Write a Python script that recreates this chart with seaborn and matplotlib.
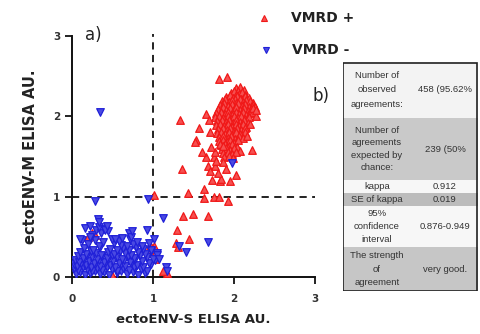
import matplotlib
matplotlib.use("Agg")
import matplotlib.pyplot as plt
import seaborn as sns
import pandas as pd
from matplotlib.lines import Line2D
from matplotlib.patches import Rectangle

# ---------------- data ----------------
pos_cluster = [
    (2.02,2.35),(2.08,2.37),(2.12,2.33),(2.05,2.31),
    (1.96,2.29),(2.00,2.31),(2.06,2.28),(2.10,2.30),(2.14,2.27),(2.03,2.26),
    (1.90,2.24),(1.95,2.26),(1.99,2.23),(2.04,2.25),(2.09,2.22),(2.13,2.25),(2.18,2.23),(2.01,2.21),
    (1.85,2.19),(1.89,2.21),(1.94,2.18),(1.98,2.20),(2.02,2.17),(2.07,2.21),(2.11,2.18),(2.15,2.20),(2.20,2.19),(2.23,2.16),
    (1.83,2.14),(1.88,2.16),(1.92,2.13),(1.97,2.15),(2.01,2.12),(2.05,2.16),(2.10,2.13),(2.14,2.15),(2.19,2.12),(2.24,2.14),
    (1.80,2.09),(1.86,2.11),(1.90,2.08),(1.95,2.10),(1.99,2.07),(2.03,2.11),(2.08,2.08),(2.12,2.10),(2.17,2.07),(2.21,2.09),(2.26,2.11),
    (1.78,2.04),(1.84,2.06),(1.89,2.03),(1.93,2.05),(1.98,2.02),(2.02,2.06),(2.06,2.03),(2.11,2.05),(2.15,2.02),(2.20,2.04),(2.24,2.06),
    (1.77,1.99),(1.82,2.01),(1.87,1.98),(1.92,2.00),(1.96,1.97),(2.00,2.01),(2.05,1.98),(2.09,2.00),(2.14,1.97),(2.18,1.99),(2.27,2.01),
    (1.79,1.94),(1.85,1.96),(1.90,1.93),(1.94,1.95),(1.99,1.92),(2.03,1.96),(2.08,1.93),(2.12,1.95),(2.17,1.92),
    (1.78,1.89),(1.83,1.91),(1.88,1.88),(1.93,1.90),(1.97,1.87),(2.02,1.91),(2.06,1.88),(2.11,1.90),(2.15,1.87),
    (1.80,1.84),(1.86,1.86),(1.91,1.83),(1.95,1.85),(2.00,1.82),(2.04,1.86),(2.09,1.83),(2.13,1.85),
    (1.79,1.79),(1.84,1.81),(1.89,1.78),(1.94,1.80),(1.98,1.77),(2.03,1.81),(2.08,1.78),(2.14,1.80),
    (1.82,1.74),(1.87,1.76),(1.92,1.73),(1.96,1.75),(2.01,1.72),(2.06,1.76),(2.11,1.73),
    (1.81,1.69),(1.86,1.71),(1.91,1.68),(1.95,1.70),(2.00,1.67),(2.05,1.71),
    (1.84,1.64),(1.89,1.66),(1.94,1.63),(1.98,1.65),(2.04,1.62),
    (1.85,1.59),(1.90,1.61),(1.95,1.58),(2.00,1.60),(2.07,1.57),
    (1.87,1.54),(1.92,1.56),(1.97,1.53),(2.02,1.55),
    (1.88,1.49),(1.94,1.51),(1.99,1.48),
]
pos_scatter = [
    (1.81,2.47),(1.91,2.49),(1.33,1.95),(1.57,1.85),(1.53,1.71),(1.52,1.68),(1.36,1.34),
    (1.65,2.03),(1.43,1.05),(1.37,0.76),(1.49,0.78),(1.68,0.76),(1.30,0.58),(1.45,0.47),
    (1.29,0.42),(1.31,0.37),(1.01,1.02),(1.01,0.38),(1.17,0.05),(1.63,1.09),(1.63,0.98),
    (1.75,1.00),(1.81,1.00),(1.93,0.94),(2.02,1.27),(1.95,1.19),(1.83,1.19),(1.84,1.22),
    (1.73,1.21),(1.76,1.38),(1.68,1.38),(1.70,1.32),(1.65,1.50),(1.75,1.50),(1.77,1.56),
    (1.86,1.43),(2.22,1.58),(2.16,1.75),(2.24,2.10),(2.27,2.08),(2.20,1.90),(1.69,1.96),
    (1.70,1.81),(1.83,1.65),(1.87,1.63),(1.72,1.62),(1.78,1.45),(1.80,1.30),(1.90,1.35),
    (1.60,1.55),(0.50,0.02),(0.25,0.55),(0.28,0.52),(0.98,0.30),(0.96,0.40),(1.02,0.22),
    (0.20,0.50),(1.12,0.08),
]
neg_cluster = [
    (0.05,0.04),(0.10,0.06),(0.16,0.03),(0.22,0.05),(0.28,0.07),(0.34,0.04),(0.40,0.06),(0.46,0.03),(0.55,0.05),(0.61,0.07),(0.68,0.04),(0.75,0.06),(0.82,0.03),(0.90,0.05),
    (0.03,0.11),(0.08,0.09),(0.13,0.12),(0.19,0.10),(0.25,0.08),(0.31,0.11),(0.37,0.09),(0.43,0.12),(0.49,0.10),(0.56,0.08),(0.63,0.11),(0.70,0.09),(0.77,0.12),(0.85,0.10),(0.93,0.08),
    (0.02,0.16),(0.06,0.14),(0.11,0.17),(0.17,0.15),(0.23,0.13),(0.29,0.16),(0.35,0.14),(0.41,0.17),(0.47,0.15),(0.53,0.13),(0.60,0.16),(0.66,0.14),(0.73,0.17),(0.80,0.15),(0.88,0.13),(0.97,0.16),
    (0.04,0.21),(0.09,0.19),(0.15,0.22),(0.21,0.20),(0.27,0.18),(0.33,0.21),(0.39,0.19),(0.45,0.22),(0.51,0.20),(0.58,0.18),(0.64,0.21),(0.71,0.19),(0.78,0.22),(0.86,0.20),(0.95,0.18),(1.03,0.21),
    (0.07,0.26),(0.13,0.24),(0.19,0.27),(0.25,0.25),(0.31,0.23),(0.37,0.26),(0.43,0.24),(0.50,0.27),(0.56,0.25),(0.62,0.23),(0.69,0.26),(0.76,0.24),(0.84,0.27),(0.92,0.25),(1.00,0.23),
    (0.10,0.31),(0.17,0.29),(0.24,0.32),(0.30,0.30),(0.36,0.28),(0.44,0.31),(0.52,0.29),(0.59,0.32),(0.66,0.30),(0.73,0.28),(0.81,0.31),(0.90,0.29),(0.98,0.32),(1.05,0.30),
    (0.15,0.36),(0.26,0.34),(0.34,0.37),(0.47,0.35),(0.55,0.33),(0.63,0.36),(0.70,0.34),(0.79,0.37),(0.88,0.35),(0.97,0.33),
    (0.20,0.41),(0.33,0.39),(0.52,0.42),(0.61,0.40),(0.68,0.38),(0.75,0.41),(0.86,0.39),(0.95,0.42),
    (0.28,0.46),(0.38,0.44),(0.58,0.45),(0.72,0.47),(0.80,0.44),
]
neg_scatter = [
    (0.25,0.52),(0.30,0.58),(0.36,0.55),(0.33,0.62),(0.40,0.60),(0.44,0.57),(0.22,0.50),
    (0.12,0.46),(0.70,0.55),(0.73,0.50),(0.62,0.48),(0.50,0.47),
    (0.34,2.05),(0.28,0.94),(0.94,0.97),(1.12,0.73),(1.68,0.44),(1.97,1.42),(1.41,0.31),
    (0.32,0.72),(0.33,0.68),(1.16,0.13),(1.17,0.08),(0.92,0.59),(1.01,0.47),(0.74,0.57),
    (0.53,0.47),(0.10,0.47),(0.16,0.61),(0.22,0.63),(0.41,0.59),(0.43,0.63),(1.32,0.38),
    (1.05,0.28),(1.08,0.22),
]
group_labels = ["VMRD +", "VMRD -"]
axis_ticks = [0, 1, 2, 3]
cutoff = 1.0

table_left = ["Number of\nobserved\nagreements:",
              "Number of\nagreements\nexpected by\nchance:",
              "kappa", "SE of kappa",
              "95%\nconfidence\ninterval",
              "The strength\nof\nagreement"]
table_right = ["458 (95.62%", "239 (50%", "0.912", "0.019",
               "0.876-0.949", "very good."]

# ---------------- build frames ----------------
pos = pd.DataFrame(pos_cluster + pos_scatter, columns=["s", "m"])
neg = pd.DataFrame(neg_cluster + neg_scatter, columns=["s", "m"])

W, H = 481, 334
sns.set_style("ticks")
plt.rcParams["font.family"] = ["DejaVu Sans"]
fig = plt.figure(figsize=(W / 100, H / 100), dpi=100)
ax = fig.add_axes([72 / W, 1 - 277 / H, (315 - 72) / W, (277 - 36) / H])

red_edge, red_face = "#f01818", "#f65050"
blue_edge, blue_face = "#2020d8", "#4a4ae2"
sns.scatterplot(data=pos, x="s", y="m", ax=ax, marker="^", s=30,
                color=red_face, edgecolor=red_edge, linewidth=0.9, zorder=3)
sns.scatterplot(data=neg, x="s", y="m", ax=ax, marker="v", s=30,
                color=blue_face, edgecolor=blue_edge, linewidth=0.9, zorder=4)

ax.axvline(cutoff, ymin=0, ymax=1.01, color="#111111", lw=1.3, ls=(0, (4, 3)), zorder=2, clip_on=False)
ax.axhline(cutoff, xmin=0, xmax=1.0, color="#111111", lw=1.3, ls=(0, (4, 3)), zorder=2)

ax.set_xlim(0, 3)
ax.set_ylim(0, 3)
ax.set_xticks(axis_ticks)
ax.set_yticks(axis_ticks)
ax.set_xticklabels([str(t) for t in axis_ticks], fontsize=7.5, fontweight="bold", color="#333333")
ax.set_yticklabels([str(t) for t in axis_ticks], fontsize=7.5, fontweight="bold", color="#333333")
ax.tick_params(direction="out", length=5, width=1.3, color="#111111")
ax.tick_params(axis="x", pad=7)
ax.tick_params(axis="y", pad=3.5)
sns.despine(ax=ax)
for sp in ["left", "bottom"]:
    ax.spines[sp].set_linewidth(1.4)
    ax.spines[sp].set_color("#111111")

ax.set_xlabel("ectoENV-S ELISA AU.", fontsize=9.5, fontweight="bold", color="#222222", labelpad=7)
ax.set_ylabel("ectoENV-M ELISA AU.", fontsize=10.5, fontweight="bold", color="#222222", labelpad=11)

fig.text(85 / W, 1 - 35 / H, "a)", fontsize=12, color="#222222", va="center", ha="left")
fig.text(313 / W, 1 - 96 / H, "b)", fontsize=12, color="#222222", va="center", ha="left")

# legend
fig.add_artist(Line2D([264 / W], [1 - 18 / H], marker="^", markersize=4.5, color=red_face,
                      markeredgecolor=red_edge, markeredgewidth=0.8, linestyle="none", transform=fig.transFigure))
fig.add_artist(Line2D([266 / W], [1 - 50 / H], marker="v", markersize=4.5, color=blue_face,
                      markeredgecolor=blue_edge, markeredgewidth=0.8, linestyle="none", transform=fig.transFigure))
fig.text(291 / W, 1 - 18 / H, group_labels[0], fontsize=10, fontweight="bold", color="#222222", va="center")
fig.text(292 / W, 1 - 50 / H, group_labels[1], fontsize=10, fontweight="bold", color="#222222", va="center")

# table panel
tx0, tx1, ty0, ty1 = 343, 478, 62, 291
tax = fig.add_axes([tx0 / W, 1 - ty1 / H, (tx1 - tx0) / W, (ty1 - ty0) / H])
tax.set_xlim(tx0, tx1)
tax.set_ylim(ty1, ty0)
tax.axis("off")
row_edges = [62, 118, 180, 193, 206, 247, 291]
row_colors = ["#f3f3f3", "#c9c9c9", "#f7f7f7", "#bcbcbc", "#f7f7f7", "#c6c6c6"]
row_spacing = [1.75, 1.5, 1.2, 1.2, 1.5, 1.6]
col_split = 409
for i in range(len(table_left)):
    y0, y1 = row_edges[i], row_edges[i + 1]
    tax.add_patch(Rectangle((tx0, y0), tx1 - tx0, y1 - y0, facecolor=row_colors[i], edgecolor="none"))
    yc = (y0 + y1) / 2
    tax.text((tx0 + col_split) / 2 + 1, yc, table_left[i], ha="center", va="center", fontsize=6.8,
             family="Liberation Sans", color="#333333", linespacing=row_spacing[i], clip_on=True)
    tax.text(445, yc, table_right[i], ha="center", va="center", fontsize=6.8,
             family="Liberation Sans", color="#333333", clip_on=True)
tax.add_patch(Rectangle((tx0 + 0.5, ty0 + 0.5), tx1 - tx0 - 1, ty1 - ty0 - 1, facecolor="none",
                        edgecolor="#222222", lw=1.2))

fig.savefig("out.png", dpi=100)
